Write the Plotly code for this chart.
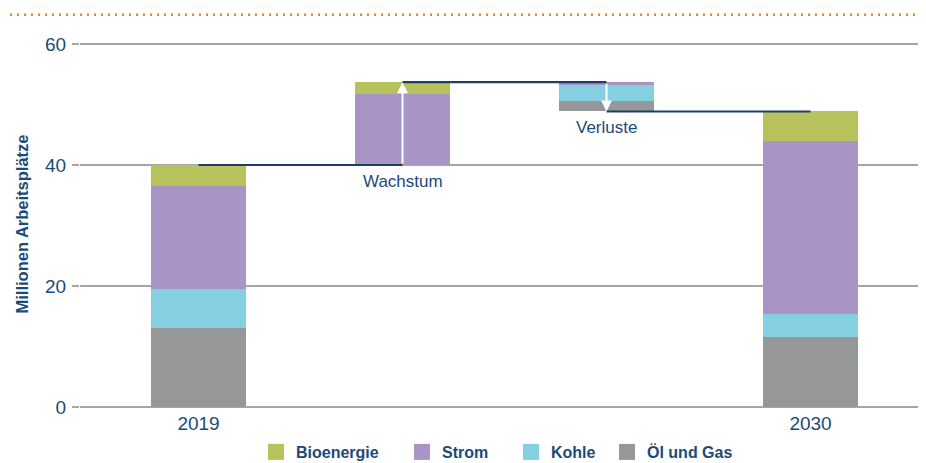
import plotly.graph_objects as go

# ---------------- data ----------------
categories = ["2019", "Wachstum", "Verluste", "2030"]
col_kind = ["total", "delta", "delta", "total"]
oel_gas = [13.1, 0.0, -1.8, 11.5]
kohle = [6.45, 0.0, -2.5, 3.85]
strom = [17.0, 11.8, -0.55, 28.6]
bioenergie = [3.45, 1.9, 0.0, 5.0]
series_names = ["Öl und Gas", "Kohle", "Strom", "Bioenergie"]
series_colors = ["#969799", "#84cfe0", "#a895c6", "#b7c25c"]
y_ticks = [0, 20, 40, 60]
x_tick_labels = ["2019", "", "", "2030"]
y_title = "Millionen Arbeitsplätze"
label_growth = "Wachstum"
label_loss = "Verluste"

series = [oel_gas, kohle, strom, bioenergie]
NAVY = "#1c4a78"
LINE = "#1d3f66"
FONT = "Liberation Sans, Arial, sans-serif"

# compute waterfall bases
n = len(categories)
bases = [[0.0] * n for _ in series]
heights = [[0.0] * n for _ in series]
levels_after = []
level = 0.0
for j in range(n):
    if col_kind[j] == "total":
        cum = 0.0
        for i, s in enumerate(series):
            bases[i][j] = cum
            heights[i][j] = s[j]
            cum += s[j]
        level = cum
    else:
        pos = [s[j] for s in series]
        if sum(pos) >= 0:
            cum = level
            for i, s in enumerate(series):
                bases[i][j] = cum
                heights[i][j] = s[j]
                cum += s[j]
        else:
            cum = level
            for i in reversed(range(len(series))):
                v = -series[i][j]
                bases[i][j] = cum - v
                heights[i][j] = v
                cum -= v
        level = cum
    levels_after.append(level)

xs = list(range(n))
fig = go.Figure()

for i in range(len(series)):
    fig.add_trace(go.Bar(
        x=xs, y=heights[i], base=bases[i], name=series_names[i],
        marker=dict(color=series_colors[i], line=dict(width=0)),
        width=0.466, showlegend=False, hoverinfo="skip",
    ))

# connector lines (center to center)
for j in range(n - 1):
    fig.add_trace(go.Scatter(
        x=[xs[j], xs[j + 1]], y=[levels_after[j], levels_after[j]],
        mode="lines", line=dict(color=LINE, width=2.2),
        showlegend=False, hoverinfo="skip",
    ))

# legend proxies (one legend each, positioned individually)
legend_series_order = [3, 2, 1, 0]
legend_ids = ["legend", "legend2", "legend3", "legend4"]
legend_x = [248, 394, 503, 599]   # container px (figure coords)
for k, i in enumerate(legend_series_order):
    fig.add_trace(go.Scatter(
        x=[None], y=[None], mode="markers", name="<b>" + series_names[i] + "</b>",
        marker=dict(symbol="square", size=16, color=series_colors[i], line=dict(width=0)),
        legend=legend_ids[k], hoverinfo="skip",
    ))

# arrows
for j in range(1, n - 1):
    fig.add_annotation(
        x=xs[j], y=levels_after[j], ax=xs[j], ay=levels_after[j - 1],
        xref="x", yref="y", axref="x", ayref="y",
        showarrow=True, arrowhead=2, arrowsize=1.1, arrowwidth=2,
        arrowcolor="white", text="",
    )

fig.add_annotation(x=xs[1], y=levels_after[0], text=label_growth, showarrow=False,
                   yanchor="top", yshift=-5, font=dict(size=17, color=NAVY, family=FONT))
fig.add_annotation(x=xs[2], y=levels_after[2], text=label_loss, showarrow=False,
                   yanchor="top", yshift=-5, font=dict(size=17, color=NAVY, family=FONT))

W, H = 918, 455
# dotted top rule
fig.add_shape(type="line", xref="paper", yref="paper",
              x0=-0.0827, x1=1.0, y0=1.0625, y1=1.0625,
              line=dict(color="#d98c1a", width=2.5, dash="2px,5px"))

leg_common = dict(orientation="h", xanchor="left", yanchor="middle",
                  xref="container", yref="container", y=1 - 444 / H,
                  font=dict(size=16, color=NAVY, family=FONT),
                  itemclick=False, itemdoubleclick=False,
                  bgcolor="rgba(0,0,0,0)", borderwidth=0)
legends = {}
for k, lid in enumerate(legend_ids):
    legends[lid] = dict(leg_common, x=legend_x[k] / W)

fig.update_layout(
    width=W, height=H,
    margin=dict(l=72, r=0, t=30, b=53),
    plot_bgcolor="white", paper_bgcolor="white",
    barmode="overlay", bargap=0,
    font=dict(family=FONT, color=NAVY, size=17),
    showlegend=True,
    **legends,
    xaxis=dict(range=[-0.581, 3.566], tickvals=xs, ticktext=x_tick_labels,
               showgrid=False, zeroline=False, showline=False, ticks="",
               automargin=False,
               tickfont=dict(size=19, color=NAVY, family=FONT)),
    yaxis=dict(range=[-0.5, 61], tickvals=y_ticks, showgrid=True, automargin=False,
               gridcolor="#a6a6a6", gridwidth=1.5, zeroline=False, showline=False,
               ticks="outside", ticklen=7, tickcolor="#a6a6a6", tickwidth=1.5,
               ticklabelstandoff=2,
               tickfont=dict(size=19, color=NAVY, family=FONT),
               title=dict(text="<b>" + y_title + "</b>", standoff=12,
                          font=dict(size=16.5, color=NAVY, family=FONT))),
)

fig.write_html("out.html")
